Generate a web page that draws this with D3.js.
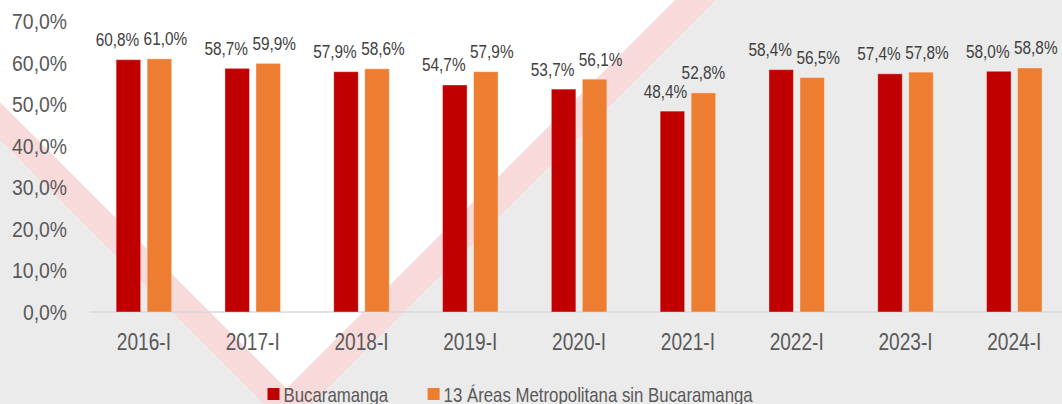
<!DOCTYPE html>
<html>
<head>
<meta charset="utf-8">
<script src="https://cdn.jsdelivr.net/npm/d3@7"></script>
<style>
  body { margin: 0; background: #ebebeb; }
  svg { display: block; font-family: "Liberation Sans Narrow", "Arial Narrow", "Liberation Sans", Arial, sans-serif; }
</style>
</head>
<body>
<script>
// data
var periods = ["2016-I", "2017-I", "2018-I", "2019-I", "2020-I", "2021-I", "2022-I", "2023-I", "2024-I"];
var bucaramanga = [60.8, 58.7, 57.9, 54.7, 53.7, 48.4, 58.4, 57.4, 58.0];
var areas13 = [61.0, 59.9, 58.6, 57.9, 56.1, 52.8, 56.5, 57.8, 58.8];
var seriesNames = ["Bucaramanga", "13 Áreas Metropolitana sin Bucaramanga"];
var yTicks = [0, 10, 20, 30, 40, 50, 60, 70];

var width = 1062;
var height = 404;
var colors = ["#c00000", "#ed7d31"];
var textColor = "#595959";

// no narrow font installed, so squeeze the regular one like Arial Narrow
function condense(sel, k) {
    sel.each(function() {
        var len = this.getComputedTextLength();
        d3.select(this)
          .attr("textLength", len * (k || 0.83))
          .attr("lengthAdjust", "spacingAndGlyphs");
    });
}

var svg = d3.select("body")
            .append("svg")
            .attr("width", width)
            .attr("height", height);

// background watermark (gray, pink V stripes, white inside)
svg.append("rect")
   .attr("width", width)
   .attr("height", height)
   .attr("fill", "#ebebeb");

// left stripe edges: y = x + c ; right stripe edges: x + y = k
var leftIn = 102, leftOut = 140, rightIn = 675, rightOut = 716;
svg.append("polygon")
   .attr("points", [[0, 0], [rightOut, 0], [(rightOut - leftOut) / 2, (rightOut + leftOut) / 2], [0, leftOut]].join(" "))
   .attr("fill", "#f8dadb");
svg.append("polygon")
   .attr("points", [[0, 0], [rightIn, 0], [(rightIn - leftIn) / 2, (rightIn + leftIn) / 2], [0, leftIn]].join(" "))
   .attr("fill", "#ffffff");

var x = d3.scaleBand()
          .domain(periods)
          .range([89.5, 1068.7]);

var xSub = d3.scaleBand()
             .domain([0, 1])
             .range([0, x.bandwidth()])
             .paddingInner(0.21)
             .paddingOuter(0.86);

var y = d3.scaleLinear()
          .domain([0, 70])
          .range([312, 21.5]);

var fmt = function(v) { return d3.format(".1f")(v).replace(".", ",") + "%"; };

// y axis labels
svg.append("g")
   .selectAll("text")
   .data(yTicks)
   .enter().append("text")
   .attr("x", 67)
   .attr("y", function(d) { return y(d); })
   .attr("dy", "0.35em")
   .attr("text-anchor", "end")
   .attr("fill", textColor)
   .style("font-size", "22.5px")
   .text(fmt)
   .call(condense, 0.86);

// baseline
svg.append("line")
   .attr("x1", x.range()[0])
   .attr("x2", width)
   .attr("y1", y(0))
   .attr("y2", y(0))
   .attr("stroke", "#d9d9d9")
   .attr("stroke-width", 1.5);

var rows = periods.map(function(p, i) {
    return { period: p, values: [bucaramanga[i], areas13[i]] };
});

var groups = svg.selectAll(".group")
                .data(rows)
                .enter().append("g")
                .attr("class", "group")
                .attr("transform", function(d) { return "translate(" + x(d.period) + ",0)"; });

groups.selectAll("rect")
      .data(function(d) { return d.values; })
      .enter().append("rect")
      .attr("x", function(d, i) { return xSub(i); })
      .attr("y", function(d) { return y(d); })
      .attr("width", xSub.bandwidth())
      .attr("height", function(d) { return y(0) - y(d); })
      .attr("fill", function(d, i) { return colors[i]; })
      .attr("stroke", "#ffffff")
      .attr("stroke-opacity", 0.35)
      .attr("stroke-width", 1);

// value labels: pushed apart when the pair would collide
var shiftClash = [-11, 6];
var shiftFree = [-7, 0];
groups.each(function(row) {
    var clash = Math.abs(y(row.values[0]) - y(row.values[1])) < 17;
    var shift = clash ? shiftClash : shiftFree;
    d3.select(this).selectAll(".val")
      .data(row.values)
      .enter().append("text")
      .attr("class", "val")
      .attr("x", function(d, i) { return xSub(i) + xSub.bandwidth() / 2 + shift[i]; })
      .attr("y", function(d) { return y(d) - 20; })
      .attr("dy", "0.35em")
      .attr("text-anchor", "middle")
      .attr("fill", "#404040")
      .style("font-size", "18.5px")
      .text(fmt)
      .call(condense);
});

// x axis labels
svg.append("g")
   .selectAll("text")
   .data(periods)
   .enter().append("text")
   .attr("x", function(d) { return x(d) + x.bandwidth() / 2; })
   .attr("y", 342)
   .attr("dy", "0.35em")
   .attr("text-anchor", "middle")
   .attr("fill", textColor)
   .style("font-size", "23px")
   .text(function(d) { return d; })
   .call(condense);

// legend
var legend = svg.append("g")
                .attr("transform", "translate(267.5,0)");
var lx = 0;
seriesNames.forEach(function(name, i) {
    legend.append("rect")
          .attr("x", lx)
          .attr("y", 388)
          .attr("width", 12)
          .attr("height", 12)
          .attr("fill", colors[i]);
    var t = legend.append("text")
                  .attr("x", lx + 16)
                  .attr("y", 401.5)
                  .attr("fill", textColor)
                  .style("font-size", "21px")
                  .text(name)
                  .call(condense, 0.8);
    lx += 16 + (+t.attr("textLength")) + 39.5;
});
</script>
</body>
</html>
